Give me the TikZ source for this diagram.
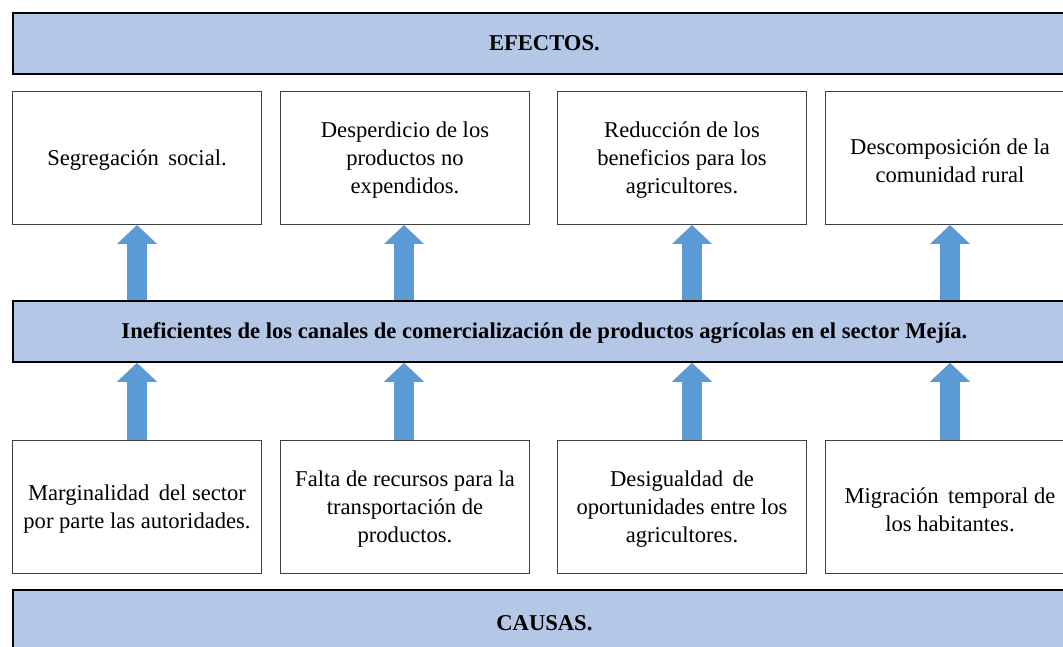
\documentclass[tikz,border=0pt]{standalone}
\usepackage{fontspec}
\setmainfont{Liberation Serif}
\usetikzlibrary{arrows.meta,calc}
\definecolor{barfill}{HTML}{B4C7E7}
\definecolor{arrowblue}{HTML}{5B9BD5}
\definecolor{boxline}{HTML}{404040}
\tikzset{
  bar/.style={draw=black, line width=1.8pt, fill=barfill, anchor=north west, inner sep=0pt,
    minimum width=1063pt, minimum height=61pt},
  bartext/.style={font=\fontsize{22.6}{28}\selectfont\bfseries, inner sep=0pt},
  card/.style={draw=boxline, line width=1pt, fill=white, anchor=north west, inner sep=0pt,
    minimum width=249pt, minimum height=133pt},
  cardtext/.style={align=center, inner sep=0pt, yshift=-2.5pt, font=\fontsize{22.6}{28}\selectfont},
  blockarrow/.style={color=arrowblue, line width=20pt,
    -{Triangle[width=39pt,length=19pt]}}
}
\begin{document}
\begin{tikzpicture}[x=1pt,y=-1pt]
\useasboundingbox (0,0) rectangle (1063,647);
\clip (0,0) rectangle (1063,647);
\fill[white] (0,0) rectangle (1063,647);
% x positions of arrows
\coordinate (x1) at (137,0);
\coordinate (x2) at (404,0);
\coordinate (x3) at (692,0);
\coordinate (x4) at (950,0);
% geometry nodes
\path (12,300) node[bar, draw=none, fill=none] (mid) {};
\foreach \i/\x in {1/12,2/280,3/557,4/825}{
  \path (\x,91) node[card, draw=none, fill=none] (e\i) {};
  \path (\x,440) node[card, draw=none, fill=none] (c\i) {};
}
% arrows
\foreach \i in {1,2,3,4}{
  \draw[blockarrow] (mid.north -| x\i) -- (e\i.south -| x\i);
  \draw[blockarrow] (c\i.north -| x\i) -- (mid.south -| x\i);
}
% bars
\node[bar] (efectos) at (12,12) {};
\node[bartext] at (efectos.center) {EFECTOS.};
\node[bar] (problema) at (12,300) {};
\node[bartext, yshift=-2pt] at (problema.center) {Ineficientes de los canales de comercialización de productos agrícolas en el sector Mejía.};
\node[bar, minimum height=66pt] (causas) at (12,589) {};
\node[bartext] at (causas.center) {CAUSAS.};
% effect boxes
\foreach \i/\x in {1/12,2/280,3/557,4/825}{
  \node[card] (ef\i) at (\x,91) {};
  \node[card] (ca\i) at (\x,440) {};
}
\node[cardtext] at (ef1.center) {Segregación\, social.};
\node[cardtext] at (ef2.center) {Desperdicio de los\\productos no\\expendidos.};
\node[cardtext] at (ef3.center) {Reducción de los\\beneficios para los\\agricultores.};
\node[cardtext] at (ef4.center) {Descomposición de la\\comunidad rural};
% cause boxes
\node[cardtext] at (ca1.center) {Marginalidad\, del sector\\por parte las autoridades.};
\node[cardtext] at (ca2.center) {Falta de recursos para la\\transportación de\\productos.};
\node[cardtext] at (ca3.center) {Desigualdad\, de\\oportunidades entre los\\agricultores.};
\node[cardtext] at (ca4.center) {Migración\, temporal de\\los habitantes.};
\end{tikzpicture}
\end{document}
